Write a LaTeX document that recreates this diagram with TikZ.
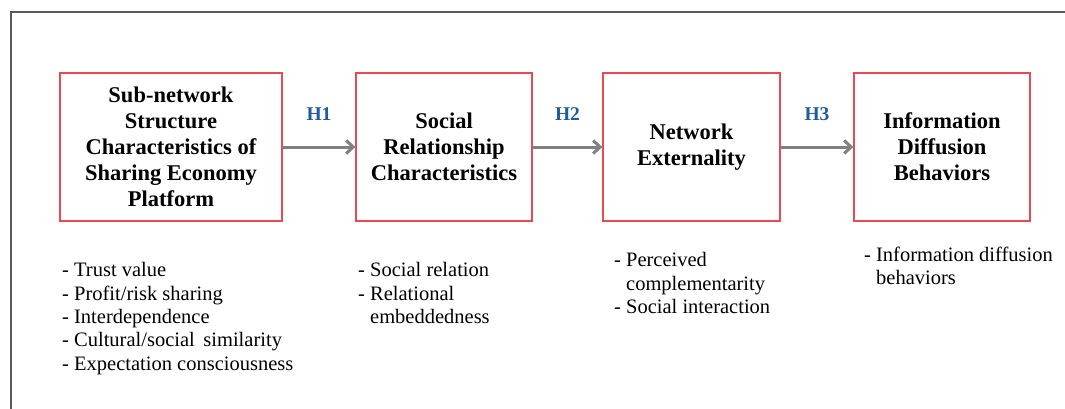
\documentclass[tikz,border=0pt]{standalone}
\usepackage{fontspec}
\setmainfont{Liberation Serif}
\usetikzlibrary{arrows.meta}
\definecolor{boxred}{HTML}{E84A4F}
\definecolor{hblue}{HTML}{1F5C99}
\definecolor{arrgray}{HTML}{808080}
\begin{document}
\begin{tikzpicture}[x=1pt,y=-1pt,
  box/.style={draw=boxred,line width=1.3pt,align=center,inner sep=0pt,font=\fontsize{22.5}{26}\selectfont\bfseries},
  hyp/.style={-{Straight Barb[length=7pt,width=13pt]},draw=arrgray,line width=3pt},
  hlab/.style={text=hblue,inner sep=0pt,font=\fontsize{19.5}{21}\selectfont\bfseries},
  items/.style={anchor=north west,align=left,inner sep=0pt,font=\fontsize{20.5}{23.3}\selectfont}]
\useasboundingbox(0,0)rectangle(1065,409);
\draw[line width=1.2pt,black!65](11,409)--(11,12)--(1065,12);
% the four constructs
\node[box,minimum width=222pt,minimum height=148pt](sub)at(171,147){Sub-network\\Structure\\Characteristics of\\Sharing Economy\\Platform};
\node[box,minimum width=176pt,minimum height=148pt](soc)at(444,147){Social\\Relationship\\Characteristics};
\node[box,minimum width=177pt,minimum height=148pt](net)at(691.5,147){Network\\Externality};
\node[box,minimum width=176pt,minimum height=148pt](inf)at(942,147){Information\\Diffusion\\Behaviors};
% hypotheses
\draw[hyp](sub)--(soc)node[hlab,midway,yshift=33pt](h1){H1};
\draw[hyp](soc)--(net)node[hlab,midway,yshift=33pt](h2){H2};
\draw[hyp](net)--(inf)node[hlab,midway,yshift=33pt](h3){H3};
% measured items
\node[items](subit)at(62,262.5){- Trust value\\- Profit/risk sharing\\- Interdependence\\- Cultural/social\, similarity\\- Expectation consciousness};
\node[items](socit)at(358,262.5){- Social relation\\- Relational\\\hphantom{- }embeddedness};
\node[items](netit)at(614,252.5){- Perceived\\\hphantom{- }complementarity\\- Social interaction};
\node[items](infit)at(864,246.5){- Information diffusion\\\hphantom{- }behaviors};
\end{tikzpicture}
\end{document}
